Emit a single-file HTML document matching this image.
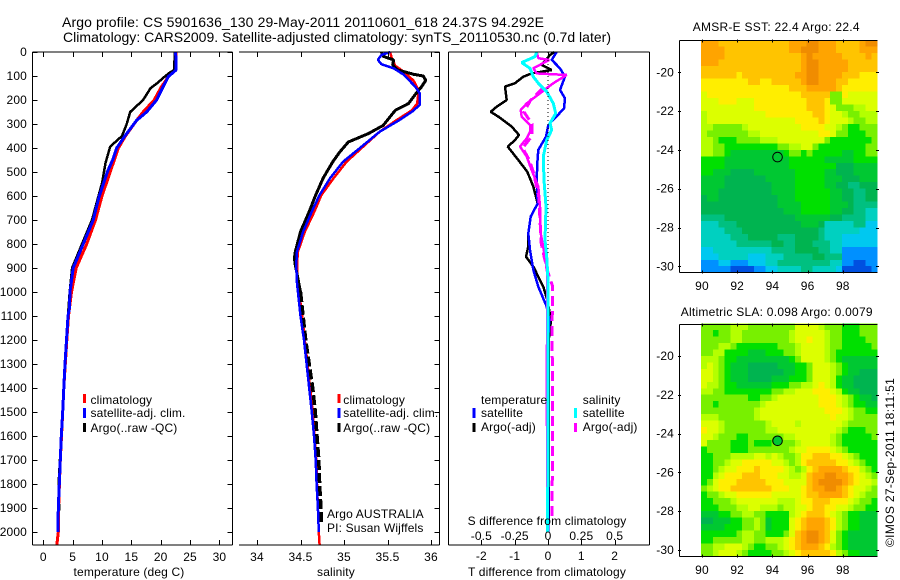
<!DOCTYPE html>
<html>
<head>
<meta charset="utf-8">
<title>Argo profile</title>
<style>
html,body{margin:0;padding:0;background:#fff;}
svg{display:block;}
text{font-family:"Liberation Sans",sans-serif;font-size:12px;fill:#000;letter-spacing:.15px;}
.title{font-size:14px;letter-spacing:0;}
</style>
</head>
<body>
<svg id="chart" xmlns="http://www.w3.org/2000/svg" width="900" height="580" viewBox="0 0 900 580">
<rect x="0" y="0" width="900" height="580" fill="#fff"/>
<g id="maps"></g>
<g id="lines"></g>
<g id="axes"></g>

<text class="title" x="62" y="27" textLength="482" lengthAdjust="spacing">Argo profile: CS 5901636_130 29-May-2011 20110601_618 24.37S 94.292E</text>
<text class="title" x="63" y="42" textLength="548" lengthAdjust="spacing">Climatology: CARS2009. Satellite-adjusted climatology: synTS_20110530.nc (0.7d later)</text>

<text x="129" y="576" text-anchor="middle">temperature (deg C)</text>
<text x="336" y="576" text-anchor="middle">salinity</text>
<text x="547" y="576" text-anchor="middle">T difference from climatology</text>
<text x="547" y="525" text-anchor="middle">S difference from climatology</text>

<g>
<rect x="83" y="394" width="3" height="9" fill="#f00"/>
<text x="90.5" y="404">climatology</text>
<rect x="83" y="408" width="3" height="10" fill="#00f"/>
<text x="90.5" y="417">satellite-adj. clim.</text>
<rect x="83" y="423" width="3" height="9" fill="#000"/>
<text x="90.5" y="432">Argo(..raw -QC)</text>
</g>
<g>
<rect x="337.5" y="394" width="3" height="9" fill="#f00"/>
<text x="343.3" y="404">climatology</text>
<rect x="337.5" y="408" width="3" height="10" fill="#00f"/>
<text x="343.3" y="417">satellite-adj. clim.</text>
<rect x="337.5" y="423" width="3" height="9" fill="#000"/>
<text x="343.3" y="432">Argo(..raw -QC)</text>
</g>
<text x="327" y="518">Argo AUSTRALIA</text>
<text x="327" y="532">PI: Susan Wijffels</text>

<g>
<text x="481" y="404">temperature</text>
<rect x="472.5" y="408" width="3" height="10" fill="#00f"/>
<text x="481" y="417">satellite</text>
<rect x="472.5" y="423" width="3" height="9" fill="#000"/>
<text x="481" y="431">Argo(-adj)</text>
<text x="582.7" y="404">salinity</text>
<rect x="574" y="408" width="3" height="10" fill="#0ff"/>
<text x="582.7" y="417">satellite</text>
<rect x="574" y="423" width="3" height="9" fill="#f0f"/>
<text x="582.7" y="431">Argo(-adj)</text>
</g>

<text x="692.7" y="31" textLength="167" lengthAdjust="spacing">AMSR-E SST: 22.4 Argo: 22.4</text>
<text x="680.7" y="316" textLength="192" lengthAdjust="spacing">Altimetric SLA: 0.098 Argo: 0.0079</text>
<text transform="translate(894,547) rotate(-90)" textLength="169" lengthAdjust="spacing">©IMOS 27-Sep-2011 18:11:51</text>
</svg>

<script>
/* ---------- temperature panel data ---------- */
const tempClimDepth = [0,75,103,150,200,250,285,350,400,450,500,600,700,800,900,1000,1100,1200,1300,1400,1500,1600,1700,1800,1900,2000,2055];
const tempClimValues = [22.6,22.6,21.3,20,18.9,17,15.9,14,12.8,12.1,11.4,10,8.9,7.4,5.6,4.8,4.3,4.0,3.75,3.5,3.3,3.1,2.9,2.75,2.6,2.55,2.3];
const tempSatDepth = [0,75,103,150,200,250,285,350,400,450,500,603,700,800,900,1000,1067,1100,1200,1300,1400,1500,1600,1700,1800,1900,2000];
const tempSatValues = [22.55,22.6,21.3,20.3,19.3,17.6,15.9,13.9,12.5,11.8,10.9,9.5,8.5,6.8,5.1,4.55,4.45,4.2,3.95,3.7,3.5,3.3,3.07,2.9,2.73,2.56,2.5];
const tempArgoDepth = [0,75,85,100,130,150,200,250,300,350,394,463,547,600,700,800,900,1000,1100,1300,1500,1800,1900,1960];
const tempArgoValues = [22.4,22.3,21.6,20.8,19.4,18.3,17,14.8,14.2,13.4,11.4,10.6,10,9.4,8.3,6.6,4.9,4.5,4.2,3.7,3.3,2.6,2.7,2.6];

/* ---------- salinity panel data ---------- */
const salClimDepth = [0,25,58,85,120,160,215,243,285,332,401,457,526,596,665,749,832,888,963,1100,1200,1300,1400,1500,1600,1700,1800,1900,2000,2055];
const salClimValues = [35.53,35.55,35.59,35.70,35.80,35.86,35.84,35.78,35.60,35.41,35.20,35.03,34.88,34.74,34.66,34.55,34.47,34.46,34.47,34.52,34.55,34.58,34.61,34.64,34.66,34.68,34.69,34.70,34.71,34.72];
const salSatDepth = [0,12,33,51,68,93,144,172,221,249,283,332,401,457,526,596,665,749,832,888,963,1100,1200,1300,1400,1500,1600,1700,1800,1900,2000];
const salSatValues = [35.53,35.43,35.39,35.43,35.57,35.68,35.82,35.87,35.87,35.78,35.64,35.41,35.18,34.99,34.84,34.72,34.63,34.53,34.46,34.45,34.46,34.50,34.54,34.57,34.60,34.63,34.655,34.675,34.685,34.70,34.71];
const salArgoDepth = [0,18,33,54,75,93,100,118,146,172,215,243,306,340,375,417,458,526,600,665,749,832,859,888,963,1000];
const salArgoValues = [35.43,35.45,35.57,35.56,35.62,35.80,35.91,35.94,35.89,35.83,35.74,35.59,35.45,35.28,35.05,34.95,34.87,34.76,34.67,34.60,34.50,34.44,34.43,34.44,34.48,34.50];
const salArgoDeepDepth = [1000,1100,1200,1300,1400,1500,1600,1700,1800,1900,1960];
const salArgoDeepValues = [34.50,34.53,34.56,34.60,34.64,34.67,34.69,34.71,34.72,34.735,34.74];

/* ---------- difference panel data ---------- */
const diffTSatDepth = [0,33,68,103,158,193,235,283,304,353,408,464,533,631,686,756,825,908,978,1061,1117,1200,1500,2000];
const diffTSatValues = [.26,.11,.36,.51,.36,.51,.48,.16,.01,-.06,-.29,-.32,-.34,-.31,-.52,-.59,-.54,-.44,-.29,-.04,.04,0,.01,.01];
const diffTArgoDepth = [0,12,54,75,89,103,130,144,200,228,249,269,311,346,367,394,450,499,561,631,686,756,811,853,894,978,1033,1117,1200,1960];
const diffTArgoValues = [.2,.06,-.19,.11,-.49,-.74,-.99,-1.29,-1.24,-1.54,-1.72,-1.49,-1.09,-.87,-.99,-1.21,-.89,-.62,-.44,-.31,-.52,-.59,-.59,-.66,-.44,-.14,-.02,.09,.02,.02];
const diffSSatDepth = [0,19,44,68,103,130,165,214,256,297,325,367,436,533,644,783,853,950,1117,2000];
const diffSSatValues = [-.085,-.0975,-.1975,-.135,-.11,-.0725,-.01,.04,.0575,.015,.0275,-.01,-.035,-.03,-.015,-.0225,-.01,0,0,-.0025];
const diffSArgoDepth = [0,26,33,68,89,96,130,172,214,242,269,304,332,360,394,436,492,561,644,756,853,922,1000,1300,1420,1960];
const diffSArgoValues = [-.085,-.0725,.01,-.11,-.085,.14,.04,-.06,-.16,-.205,-.1975,-.135,-.135,-.16,-.21,-.16,-.1225,-.0725,-.06,-.055,-.0225,-.005,-.005,-.008,-.008,-.005];
const diffSRawDepth = [150,200,250,300,350,400,450,500,600,700,800,900,922,978,1061,1117,1300,1700,1950];
const diffSRawValues = [-.04,-.13,-.18,-.12,-.12,-.19,-.14,-.11,-.07,-.06,-.05,-.01,.0025,.035,.035,.03,.032,.033,.03];

/* ---------- tick labels ---------- */
const depthTicks = [0,100,200,300,400,500,600,700,800,900,1000,1100,1200,1300,1400,1500,1600,1700,1800,1900,2000];
const tempTicks = [0,5,10,15,20,25,30];
const salTicks = [34,34.5,35,35.5,36];
const diffTTicks = [-2,-1,0,1,2];
const diffSTicks = [-0.5,-0.25,0,0.25,0.5];
const lonTicks = [90,92,94,96,98];
const latTicks = [-20,-22,-24,-26,-28,-30];

/* ---------- map cell levels (north to south, west to east) ---------- */
const sstRows = [
"dddccccccccccccdddeedddccccdee",
"ddddcccccccccccddeeedddccccddd",
"ddddcccccccccccccdedddddccccdc",
"dddccccccccccccccdeedddddccccc",
"cccccccccccccccccdeedddddccccc",
"ccccccbcccccccccddeeddddcccbbb",
"bbbbbbbbccbbcccccdeedddccbbbbb",
"bbbbbbbbbbbbbbbcccdddddcbbbbbb",
"abbbbbbbbbbbbbbbbccccc88baaaaa",
"aaabbbaaabbbbbbbbbcccb88aaaaaa",
"aaaaaaaaabbbbbbbbbcccba88899aa",
"9aaaaaaaaaabbbbbbbbccbaa988999",
"9aaaaaaaaaaaaaaabbbbcbaaa98899",
"99888889aaaaaaaaabbbbaa9877888",
"9888888899aaaaaaaaaabba8877788",
"9987778888999aaaaaaaa877777778",
"99887777777778899aa87777777788",
"998876666666667887877777667788",
"777766666666666777777666667777",
"777766666666666777777775556666",
"776665555666666677777665556666",
"666655555556666677777666555666",
"666655555555666677777665544555",
"666555555555666677777766554455",
"566555555555566677777766554455",
"555555555555566667777766654444",
"555555555555556667777766554433",
"444455555555555566666655444433",
"333444555555555556665333334422",
"333344455555555555554333333222",
"333334445555544455554333222222",
"333333444444554455544433222222",
"223333333333444455554433111111",
"222333332223334444455444111111",
"111221112223344444444433110011",
"111110000112233334433332000001"];
const slaRows = [
"8888899988888888aaaa9888777888",
"8878899888888889aaaaa988777888",
"8888899888888889aabaa988777788",
"88899877777778889aaaa988777778",
"88997777666777889aaaa987777777",
"99987766666666678aaaa987666666",
"9a98766655555666778aaa98766666",
"aa98766655555566778aaa98766555",
"aa98766655556667778aaa97665555",
"a998776666667778899aba97665555",
"9988777777778899aaabbba9766555",
"8888888877889aaaaaaabbba987665",
"88788888889aaaaaaaaabbba987766",
"8888888889aaaaaaaaaaabbba98877",
"9998888889aaaaaaaaaaaabaa98888",
"aaa988888889aaaa9aaaaaaa988888",
"baa9888888899aaaaaaaaaa9877788",
"aa98887788888899aaaaaa98777778",
"a8888777877788889aaaaa98777777",
"7888877788888889aabbbba9877777",
"778889999aa9a9889bbcccbba98777",
"77889aabbbbbaa989bcccccbba9877",
"7789aabbbcbbbba989bcddddcbb987",
"779abbbcccbbbaa99acddeeddcba98",
"78abbbcccccbbbaaaacdeeeedcbaa9",
"89abbcccccccbbbaabcddeedcbaa98",
"7889aabbbbbbaaaaabccddddcba988",
"778889aaaaaaa999abbcccbbba9887",
"77788899aa999899aabccbbaa98877",
"6667788998877779abcccba9877666",
"556667788986777abcdddcb9877666",
"666677788986777abcdddcb9877666",
"777777899887778acdeedca8766666",
"77888889988999abcdeedca8766666",
"8899aaa9877889abcdddcb98766666",
"889aaa987777889abcccccb9877666"];
const levelColors = {"0":"#0050e0","1":"#0090ff","2":"#00c8f0","3":"#00d0c0","4":"#00c080","5":"#00b450","6":"#00c832","7":"#00e000","8":"#78f000","9":"#b4ff00","a":"#dcff00","b":"#ffee00","c":"#ffc400","d":"#ffa400","e":"#f08c00"};

/* ---------- axis functions ---------- */
const SVGNS = "http://www.w3.org/2000/svg";
const yDepth = d => 52 + 0.24 * d;
const xTemp = t => 43.3 + 5.87 * t;
const xSal = s => 257 + 87 * (s - 34);
const xDiffT = t => 548 + 33.33 * t;
const xDiffS = s => 548 + 133.3 * s;
const xLon = l => 702 + 17.6 * (l - 90);
const yLatTop = lat => 72.3 + 19.4 * (-20 - lat);
const yLatBot = lat => 356 + 19.4 * (-20 - lat);

const linesG = document.getElementById("lines");
const axesG = document.getElementById("axes");
const mapsG = document.getElementById("maps");

function mk(tag, parent, attrs) {
  const el = document.createElementNS(SVGNS, tag);
  for (const k in attrs) el.setAttribute(k, attrs[k]);
  parent.appendChild(el);
  return el;
}

function drawSeries(name, depths, values, xf, color, width, dash) {
  const pts = depths.map((d, i) => xf(values[i]).toFixed(1) + "," + yDepth(d).toFixed(1)).join(" ");
  const el = mk("polyline", linesG, {points: pts, fill: "none", stroke: color, "stroke-width": width, "shape-rendering": "crispEdges", "stroke-linejoin": "bevel"});
  if (dash) el.setAttribute("stroke-dasharray", dash);
  
  
}

function axisLine(name, x1, y1, x2, y2) {
  const el = mk("line", axesG, {x1: x1, y1: y1, x2: x2, y2: y2, stroke: "#000", "stroke-width": 1, "shape-rendering": "crispEdges"});
  
  
}

function label(name, x, y, txt, anchor) {
  const el = mk("text", axesG, {x: x, y: y, "text-anchor": anchor});
  el.textContent = txt;
  
  
}

function drawMap(name, rows, yf) {
  const g = mk("g", mapsG, {});
  
  
  const lonStep = 1 / 3, latStep = 1 / 3;
  rows.forEach((row, r) => {
    for (let c = 0; c < row.length; c++) {
      const lon = 89.95 + c * lonStep;
      const lat = -18.33 - r * latStep;
      const x = xLon(lon), y = yf(lat);
      const cell = mk("rect", g, {x: x.toFixed(2), y: y.toFixed(2), width: (17.6 * lonStep + 0.4).toFixed(2), height: (19.4 * latStep + 0.4).toFixed(2), fill: levelColors[row[c]] || "#00c832", "shape-rendering": "crispEdges"});
      
      
    }
  });
}

/* ---------- maps ---------- */
drawMap("sst-map", sstRows, yLatTop);
drawMap("sla-map", slaRows, yLatBot);

/* ---------- series ---------- */
drawSeries("temperature-argo-line", tempArgoDepth, tempArgoValues, xTemp, "#000", 2.5);
drawSeries("temperature-climatology-line", tempClimDepth, tempClimValues, xTemp, "#f00", 3);
drawSeries("temperature-satellite-line", tempSatDepth, tempSatValues, xTemp, "#00f", 3);

drawSeries("salinity-climatology-line", salClimDepth, salClimValues, xSal, "#f00", 2.5);
drawSeries("salinity-argo-line", salArgoDepth, salArgoValues, xSal, "#000", 3);
drawSeries("salinity-argo-deep-line", salArgoDeepDepth, salArgoDeepValues, xSal, "#000", 3.5, "10 3");
drawSeries("salinity-satellite-line", salSatDepth, salSatValues, xSal, "#00f", 2.5);

drawSeries("t-diff-argo-line", diffTArgoDepth, diffTArgoValues, xDiffT, "#000", 2.5);
drawSeries("t-diff-satellite-line", diffTSatDepth, diffTSatValues, xDiffT, "#00f", 2.5);
drawSeries("s-diff-argo-raw-line", diffSRawDepth, diffSRawValues, xDiffS, "#f0f", 3, "10 5");
drawSeries("s-diff-argo-line", diffSArgoDepth, diffSArgoValues, xDiffS, "#f0f", 2.5);
drawSeries("s-diff-satellite-line", diffSSatDepth, diffSSatValues, xDiffS, "#0ff", 3);

/* zero reference line */
const zeroLine = mk("line", linesG, {x1: xDiffT(0), y1: 52, x2: xDiffT(0), y2: yDepth(850), stroke: "#000", "stroke-width": 1, "stroke-dasharray": "1 3", "shape-rendering": "crispEdges"});



/* ---------- panel frames ---------- */
const frameTop = 52, frameBot = 545;
axisLine("temperature-top-axis", 32.5, frameTop, 232.5, frameTop);
axisLine("temperature-bottom-axis", 32.5, frameBot, 232.5, frameBot);
axisLine("temperature-left-axis", 32.5, frameTop, 32.5, frameBot);
axisLine("temperature-right-axis", 232.5, frameTop, 232.5, frameBot);
axisLine("salinity-top-axis", 239, frameTop, 439.5, frameTop);
axisLine("salinity-bottom-axis", 239, frameBot, 439.5, frameBot);
axisLine("salinity-right-axis", 439.5, frameTop, 439.5, frameBot);
axisLine("difference-top-axis", 448.5, frameTop, 649.5, frameTop);
axisLine("difference-bottom-axis", 448.5, frameBot, 649.5, frameBot);
axisLine("difference-left-axis", 448.5, frameTop, 448.5, frameBot);
axisLine("difference-right-axis", 649.5, frameTop, 649.5, frameBot);

depthTicks.forEach(d => {
  const y = Math.round(yDepth(d)) + 0.5;
  axisLine("depth-tick", 32.5, y, 37.5, y);
  axisLine("depth-tick", 227.5, y, 232.5, y);
  axisLine("depth-tick", 434.5, y, 439.5, y);
  label("depth-label", 27, yDepth(d) + 4, String(d), "end");
});
tempTicks.forEach(t => {
  const x = Math.round(xTemp(t)) + 0.5;
  axisLine("temperature-tick", x, frameTop, x, frameTop + 5);
  axisLine("temperature-tick", x, frameBot, x, frameBot - 5);
  label("temperature-label", xTemp(t), 561, String(t), "middle");
});
salTicks.forEach(s => {
  const x = Math.round(xSal(s)) + 0.5;
  axisLine("salinity-tick", x, frameTop, x, frameTop + 5);
  axisLine("salinity-tick", x, frameBot, x, frameBot - 5);
  label("salinity-label", xSal(s), 561, String(s), "middle");
});
diffTTicks.forEach(t => {
  const x = Math.round(xDiffT(t)) + 0.5;
  axisLine("t-difference-tick", x, frameTop, x, frameTop + 5);
  axisLine("t-difference-tick", x, frameBot, x, frameBot - 5);
  label("t-difference-label", xDiffT(t), 560, String(t), "middle");
});
diffSTicks.forEach(s => {
  label("s-difference-label", xDiffS(s), 540, String(s), "middle");
});

/* ---------- map frames ---------- */
[[40.5, 272.5, yLatTop, 290, "sst"], [324.5, 556.5, yLatBot, 574, "sla"]].forEach(f => {
  const t = f[0], b = f[1], yf = f[2], ly = f[3], n = f[4];
  axisLine(n + "-map-top-axis", 679.5, t, 877.5, t);
  axisLine(n + "-map-bottom-axis", 679.5, b, 877.5, b);
  axisLine(n + "-map-left-axis", 679.5, t, 679.5, b);
  lonTicks.forEach(l => {
    const x = Math.round(xLon(l)) + 0.5;
    axisLine(n + "-map-lon-tick", x, t - 1, x, t + 2);
    axisLine(n + "-map-lon-tick", x, b - 2, x, b + 1);
    label(n + "-map-lon-label", xLon(l), ly, String(l), "middle");
  });
  latTicks.forEach(l => {
    const y = Math.round(yf(l)) + 0.5;
    axisLine(n + "-map-lat-tick", 678, y, 681, y);
    axisLine(n + "-map-lat-tick", 876, y, 879, y);
    label(n + "-map-lat-label", 674, yf(l) + 4, String(l), "end");
  });
});

/* ---------- float position markers ---------- */
const floatLon = 94.292, floatLat = -24.37;
const m1 = mk("circle", axesG, {cx: xLon(floatLon), cy: yLatTop(floatLat), r: 4.8, fill: "none", stroke: "#000", "stroke-width": 1});


const m2 = mk("circle", axesG, {cx: xLon(floatLon), cy: yLatBot(floatLat), r: 4.8, fill: "#00c832", stroke: "#000", "stroke-width": 1});


</script>
</body>
</html>
